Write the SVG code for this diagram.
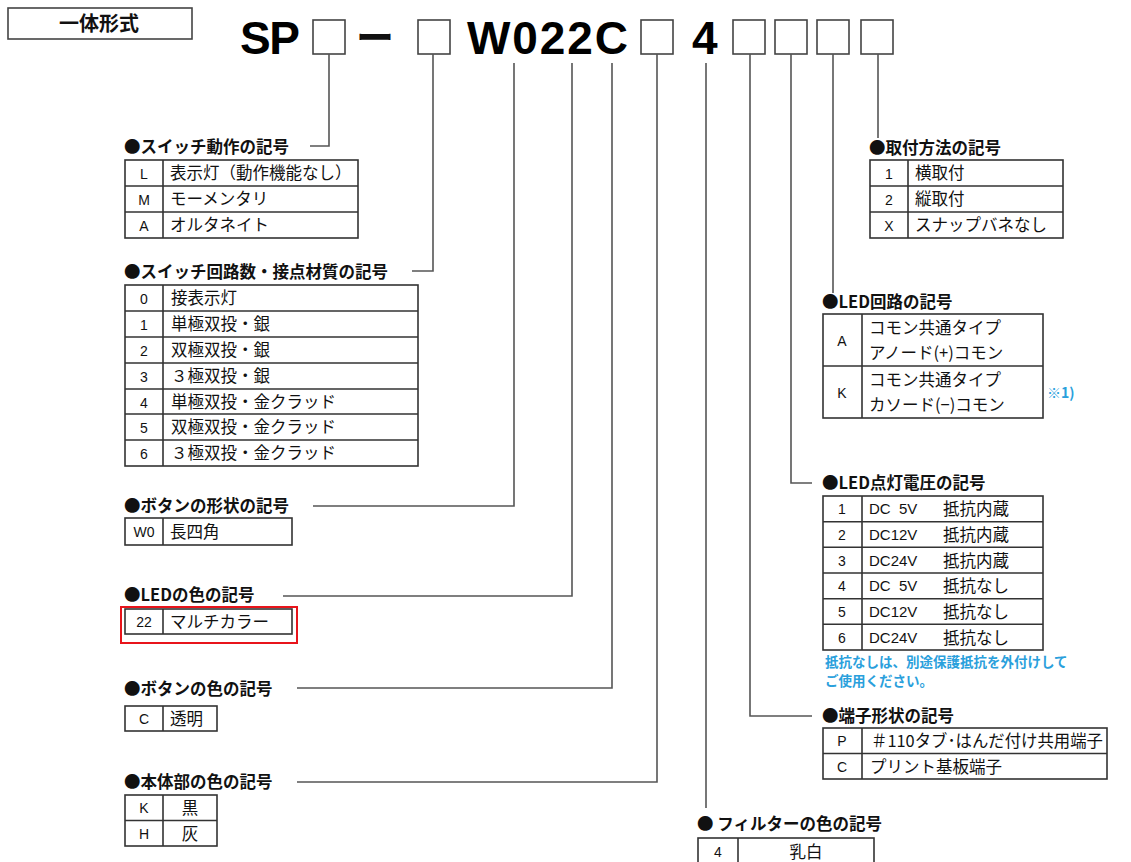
<svg xmlns="http://www.w3.org/2000/svg" width="1131" height="862" viewBox="0 0 1131 862">
<style>
  .bg{fill:#fff}
  .tb{fill:none;stroke:#333;stroke-width:1.6}
  .ln{stroke:#333;stroke-width:1.6;fill:none}
  .conn path{fill:none;stroke:#555;stroke-width:1.6}
  .lbl{font-family:"Noto Sans CJK JP","Liberation Sans",sans-serif;font-weight:bold;font-size:16.5px;fill:#111}
  .cell{font-family:"Noto Sans CJK JP","Liberation Sans",sans-serif;font-size:16.5px;fill:#111}
  .code{font-family:"Liberation Sans",Arial,sans-serif;font-size:14px;fill:#111;text-anchor:middle}
  .dc{font-family:"Liberation Sans",Arial,sans-serif;font-size:15px;fill:#111;white-space:pre}
  .big{font-family:"Liberation Sans",Arial,sans-serif;font-weight:bold;font-size:46px;fill:#000}
  .box{fill:#fff;stroke:#444;stroke-width:1.6}
  .note{font-family:"Noto Sans CJK JP",sans-serif;font-weight:bold;font-size:14px;fill:#2aa0dc}
</style>
<rect class="bg" x="0" y="0" width="1131" height="862"/>

<g id="header">
  <rect x="8" y="8" width="184" height="31" fill="#fff" stroke="#444" stroke-width="1.6"/>
  <text x="99" y="31" text-anchor="middle" class="lbl" style="font-size:20px">一体形式</text>
  <text x="240" y="54" class="big" textLength="60" lengthAdjust="spacing">SP</text>
  <rect class="box" x="313" y="20" width="32" height="34"/>
  <text x="356" y="52" class="lbl" style="font-size:40px" textLength="38" lengthAdjust="spacingAndGlyphs">ー</text>
  <rect class="box" x="418" y="20" width="32" height="34"/>
  <text x="467" y="54" class="big" textLength="161" lengthAdjust="spacing">W022C</text>
  <rect class="box" x="641" y="20" width="32" height="34"/>
  <text x="692" y="54" class="big">4</text>
  <rect class="box" x="733" y="20" width="32" height="34"/>
  <rect class="box" x="775" y="20" width="32" height="34"/>
  <rect class="box" x="817" y="20" width="32" height="34"/>
  <rect class="box" x="861" y="20" width="32" height="34"/>
</g>

<g class="conn" id="connectors">
  <path d="M329,54 V146 H310"/>
  <path d="M433,54 V271 H412"/>
  <path d="M514,63 V506 H313"/>
  <path d="M572,63 V596 H283"/>
  <path d="M612,63 V688 H297"/>
  <path d="M657,54 V782 H297"/>
  <path d="M706,63 V808"/>
  <path d="M750,54 V716 H812"/>
  <path d="M791,54 V483 H812"/>
  <path d="M833,54 V293"/>
  <path d="M878,54 V138"/>
</g>

<g id="switch-action">
  <text x="124" y="153" class="lbl">●スイッチ動作の記号</text>
  <rect class="tb" x="125" y="160" width="233" height="78"/>
  <path class="ln" d="M125,186 H358 M125,212 H358 M163,160 V238"/>
  <text x="144" y="179" class="code">L</text><text x="170" y="179" class="cell">表示灯（動作機能なし）</text>
  <text x="144" y="205" class="code">M</text><text x="170" y="205" class="cell">モーメンタリ</text>
  <text x="144" y="231" class="code">A</text><text x="170" y="231" class="cell">オルタネイト</text>
</g>

<g id="switch-circuit">
  <text x="124" y="278" class="lbl">●スイッチ回路数・接点材質の記号</text>
  <rect class="tb" x="125" y="285" width="293" height="181"/>
  <path class="ln" d="M125,311 H418 M125,337 H418 M125,363 H418 M125,389 H418 M125,414 H418 M125,440 H418 M163,285 V466"/>
  <text x="144" y="304" class="code">0</text><text x="171" y="304" class="cell">接表示灯</text>
  <text x="144" y="330" class="code">1</text><text x="171" y="330" class="cell">単極双投・銀</text>
  <text x="144" y="356" class="code">2</text><text x="171" y="356" class="cell">双極双投・銀</text>
  <text x="144" y="382" class="code">3</text><text x="171" y="382" class="cell">３極双投・銀</text>
  <text x="144" y="408" class="code">4</text><text x="171" y="408" class="cell">単極双投・金クラッド</text>
  <text x="144" y="433" class="code">5</text><text x="171" y="433" class="cell">双極双投・金クラッド</text>
  <text x="144" y="459" class="code">6</text><text x="171" y="459" class="cell">３極双投・金クラッド</text>
</g>

<g id="button-shape">
  <text x="124" y="512" class="lbl">●ボタンの形状の記号</text>
  <rect class="tb" x="125" y="518" width="167" height="27"/>
  <path class="ln" d="M163,518 V545"/>
  <text x="144" y="537" class="code">W0</text><text x="170" y="538" class="cell">長四角</text>
</g>

<g id="led-color">
  <text x="124" y="601" class="lbl">●LEDの色の記号</text>
  <rect x="121" y="607" width="176" height="36" fill="none" stroke="#e8141b" stroke-width="2"/>
  <rect class="tb" x="125" y="609" width="167" height="25"/>
  <path class="ln" d="M163,609 V634"/>
  <text x="144" y="627" class="code">22</text><text x="170" y="628" class="cell">マルチカラー</text>
</g>

<g id="button-color">
  <text x="124" y="695" class="lbl">●ボタンの色の記号</text>
  <rect class="tb" x="125" y="706" width="92" height="25"/>
  <path class="ln" d="M163,706 V731"/>
  <text x="144" y="724" class="code">C</text><text x="170" y="725" class="cell">透明</text>
</g>

<g id="body-color">
  <text x="124" y="788" class="lbl">●本体部の色の記号</text>
  <rect class="tb" x="125" y="795" width="92" height="51"/>
  <path class="ln" d="M125,820.5 H217 M163,795 V846"/>
  <text x="144" y="813" class="code">K</text><text x="190" y="814" class="cell" text-anchor="middle">黒</text>
  <text x="144" y="839" class="code">H</text><text x="190" y="840" class="cell" text-anchor="middle">灰</text>
</g>

<g id="mounting">
  <text x="869" y="154" class="lbl">●取付方法の記号</text>
  <rect class="tb" x="870" y="160" width="193" height="78"/>
  <path class="ln" d="M870,186 H1063 M870,212 H1063 M908,160 V238"/>
  <text x="889" y="179" class="code">1</text><text x="915" y="179" class="cell">横取付</text>
  <text x="889" y="205" class="code">2</text><text x="915" y="205" class="cell">縦取付</text>
  <text x="889" y="231" class="code">X</text><text x="915" y="231" class="cell">スナップバネなし</text>
</g>

<g id="led-circuit">
  <text x="822" y="308" class="lbl">●LED回路の記号</text>
  <rect class="tb" x="823" y="314" width="220" height="104"/>
  <path class="ln" d="M823,366 H1043 M862,314 V418"/>
  <text x="842" y="346" class="code">A</text>
  <text x="869" y="334" class="cell">コモン共通タイプ</text>
  <text x="869" y="359" class="cell">アノード(+)コモン</text>
  <text x="842" y="398" class="code">K</text>
  <text x="869" y="386" class="cell">コモン共通タイプ</text>
  <text x="869" y="411" class="cell">カソード(−)コモン</text>
  <text x="1047" y="398" class="note">※1)</text>
</g>

<g id="led-voltage">
  <text x="822" y="489" class="lbl">●LED点灯電圧の記号</text>
  <rect class="tb" x="823" y="496" width="220" height="154"/>
  <path class="ln" d="M823,521.7 H1043 M823,547.3 H1043 M823,573 H1043 M823,598.7 H1043 M823,624.3 H1043 M862,496 V650"/>
  <text x="842" y="514" class="code">1</text><text x="869" y="514" class="dc">DC  5V</text><text x="943" y="515" class="cell">抵抗内蔵</text>
  <text x="842" y="540" class="code">2</text><text x="869" y="540" class="dc">DC12V</text><text x="943" y="541" class="cell">抵抗内蔵</text>
  <text x="842" y="566" class="code">3</text><text x="869" y="566" class="dc">DC24V</text><text x="943" y="567" class="cell">抵抗内蔵</text>
  <text x="842" y="591" class="code">4</text><text x="869" y="591" class="dc">DC  5V</text><text x="943" y="592" class="cell">抵抗なし</text>
  <text x="842" y="617" class="code">5</text><text x="869" y="617" class="dc">DC12V</text><text x="943" y="618" class="cell">抵抗なし</text>
  <text x="842" y="643" class="code">6</text><text x="869" y="643" class="dc">DC24V</text><text x="943" y="644" class="cell">抵抗なし</text>
  <text x="825" y="667" class="note" style="font-size:13.5px">抵抗なしは、別途保護抵抗を外付けして</text>
  <text x="825" y="686" class="note" style="font-size:13.5px">ご使用ください。</text>
</g>

<g id="terminal">
  <text x="822" y="722" class="lbl">●端子形状の記号</text>
  <rect class="tb" x="823" y="728" width="284" height="51"/>
  <path class="ln" d="M823,753.5 H1107 M862,728 V779"/>
  <text x="842" y="746" class="code">P</text><text x="871" y="747" class="cell" textLength="232" lengthAdjust="spacingAndGlyphs">＃110タブ･はんだ付け共用端子</text>
  <text x="842" y="772" class="code">C</text><text x="870" y="773" class="cell">プリント基板端子</text>
</g>

<g id="filter">
  <text x="697" y="830" class="lbl">● フィルターの色の記号</text>
  <rect class="tb" x="698" y="838" width="176" height="30"/>
  <path class="ln" d="M738,838 V868"/>
  <text x="718" y="857" class="code">4</text><text x="806" y="858" class="cell" text-anchor="middle">乳白</text>
</g>
</svg>
